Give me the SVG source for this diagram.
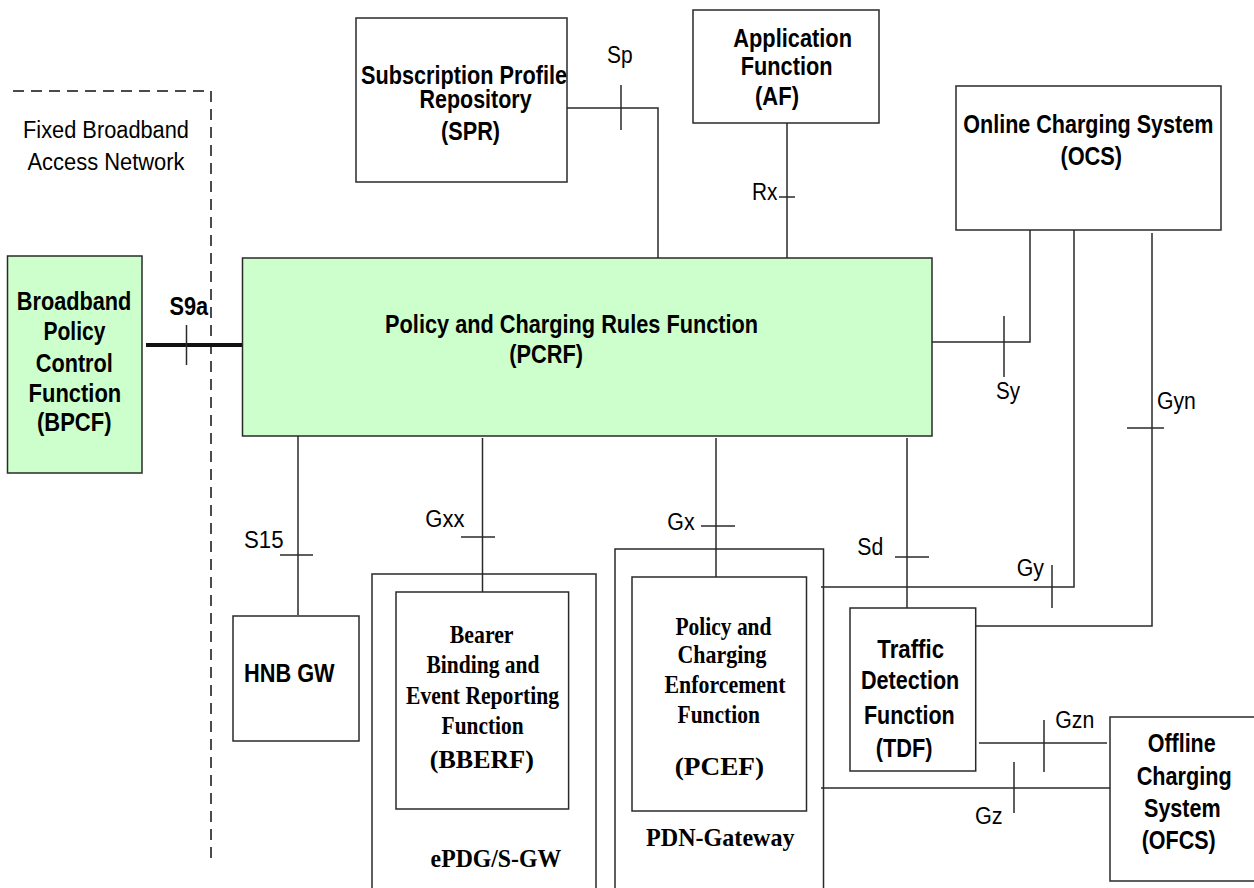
<svg xmlns="http://www.w3.org/2000/svg" width="1254" height="888" viewBox="0 0 1254 888">
<style>
.box{fill:#fff;stroke:#2a2a2a;stroke-width:1.5}
.grn{fill:#ccffcc;stroke:#2a2a2a;stroke-width:1.5}
.ln{fill:none;stroke:#2a2a2a;stroke-width:1.5}
.thick{fill:none;stroke:#111;stroke-width:4}
.dash{fill:none;stroke:#111;stroke-width:1.5;stroke-dasharray:11 7}
.b{font-family:"Liberation Sans",Arial,sans-serif;font-weight:bold;font-size:25px;fill:#000}
.r{font-family:"Liberation Sans",Arial,sans-serif;font-size:23px;fill:#000}
.t{font-family:"Liberation Serif","Times New Roman",serif;font-weight:bold;font-size:25px;fill:#000}
</style>
<rect width="1254" height="888" fill="#fff"/>
<g id="fixed-broadband-access-network">
<path class="dash" d="M13,91 H211 V860"/>
<text class="r" x="23" y="138" textLength="166" lengthAdjust="spacingAndGlyphs">Fixed Broadband</text>
<text class="r" x="27.5" y="170" textLength="157" lengthAdjust="spacingAndGlyphs">Access Network</text>
</g>
<g id="connectors">
<path class="thick" d="M146,345 H243"/>
<path class="ln" d="M186.5,325 V365"/>
<path class="ln" d="M567,108 H658 V258"/>
<path class="ln" d="M621,85 V130"/>
<path class="ln" d="M787,123 V258"/>
<path class="ln" d="M779,197 H795"/>
<path class="ln" d="M932,342 H1030 V230"/>
<path class="ln" d="M1004,316 V377"/>
<path class="ln" d="M821,587 H1074 V230"/>
<path class="ln" d="M1052,565 V608"/>
<path class="ln" d="M974,626 H1152 V233"/>
<path class="ln" d="M1127,428 H1164"/>
<path class="ln" d="M298,434 V615"/>
<path class="ln" d="M280,555 H313"/>
<path class="ln" d="M482.5,438 V592"/>
<path class="ln" d="M461,537 H495"/>
<path class="ln" d="M716,438 V577"/>
<path class="ln" d="M701,526 H735"/>
<path class="ln" d="M907,438 V608"/>
<path class="ln" d="M895,557 H929"/>
<path class="ln" d="M979,743 H1107"/>
<path class="ln" d="M1044,720 V772"/>
<path class="ln" d="M821,788 H1110"/>
<path class="ln" d="M1014,762 V813"/>
<text class="b" x="169.5" y="315" font-size="24" textLength="38.7" lengthAdjust="spacingAndGlyphs">S9a</text>
<text class="r" x="607" y="63" textLength="25.6" lengthAdjust="spacingAndGlyphs">Sp</text>
<text class="r" x="752" y="200" font-size="22" textLength="25.4" lengthAdjust="spacingAndGlyphs">Rx</text>
<text class="r" x="996" y="399" textLength="24" lengthAdjust="spacingAndGlyphs">Sy</text>
<text class="r" x="1157" y="409" textLength="38.8" lengthAdjust="spacingAndGlyphs">Gyn</text>
<text class="r" x="244" y="548" textLength="39.6" lengthAdjust="spacingAndGlyphs">S15</text>
<text class="r" x="425.3" y="527" textLength="39.2" lengthAdjust="spacingAndGlyphs">Gxx</text>
<text class="r" x="667.3" y="529.5" textLength="27.3" lengthAdjust="spacingAndGlyphs">Gx</text>
<text class="r" x="857.3" y="554.5" textLength="26" lengthAdjust="spacingAndGlyphs">Sd</text>
<text class="r" x="1016.7" y="576" textLength="27.3" lengthAdjust="spacingAndGlyphs">Gy</text>
<text class="r" x="1055.3" y="727.5" textLength="39" lengthAdjust="spacingAndGlyphs">Gzn</text>
<text class="r" x="975" y="823.5" textLength="27.7" lengthAdjust="spacingAndGlyphs">Gz</text>
</g>
<g id="bpcf">
<rect class="grn" x="7.5" y="256" width="134.5" height="217"/>
<text class="b" x="16.8" y="310" textLength="114.5" lengthAdjust="spacingAndGlyphs">Broadband</text>
<text class="b" x="43.4" y="340" textLength="62" lengthAdjust="spacingAndGlyphs">Policy</text>
<text class="b" x="35.8" y="371.5" textLength="77" lengthAdjust="spacingAndGlyphs">Control</text>
<text class="b" x="28.6" y="401.5" textLength="92.6" lengthAdjust="spacingAndGlyphs">Function</text>
<text class="b" x="37" y="431" textLength="74.5" lengthAdjust="spacingAndGlyphs">(BPCF)</text>
</g>
<g id="pcrf">
<rect class="grn" x="242.5" y="258" width="689.5" height="178"/>
<text class="b" x="385.1" y="333.3" textLength="373" lengthAdjust="spacingAndGlyphs">Policy and Charging Rules Function</text>
<text class="b" x="509.3" y="363.3" textLength="73.7" lengthAdjust="spacingAndGlyphs">(PCRF)</text>
</g>
<g id="spr">
<rect class="box" x="356" y="18" width="211" height="164"/>
<text class="b" x="361" y="83.5" font-size="24" textLength="206" lengthAdjust="spacingAndGlyphs">Subscription Profile</text>
<text class="b" x="419.6" y="107.5" font-size="24" textLength="112" lengthAdjust="spacingAndGlyphs">Repository</text>
<text class="b" x="441" y="140" textLength="59" lengthAdjust="spacingAndGlyphs">(SPR)</text>
</g>
<g id="af">
<rect class="box" x="693" y="10" width="186" height="113"/>
<text class="b" x="733.3" y="46.7" textLength="118.7" lengthAdjust="spacingAndGlyphs">Application</text>
<text class="b" x="740.8" y="75" textLength="91.7" lengthAdjust="spacingAndGlyphs">Function</text>
<text class="b" x="755" y="105" textLength="44" lengthAdjust="spacingAndGlyphs">(AF)</text>
</g>
<g id="ocs">
<rect class="box" x="956" y="86" width="265" height="144"/>
<text class="b" x="963.3" y="133.3" textLength="250" lengthAdjust="spacingAndGlyphs">Online Charging System</text>
<text class="b" x="1060.4" y="165" textLength="61.7" lengthAdjust="spacingAndGlyphs">(OCS)</text>
</g>
<g id="hnb-gw">
<rect class="box" x="233" y="616" width="126" height="125"/>
<text class="b" x="244" y="681.7" textLength="90.6" lengthAdjust="spacingAndGlyphs">HNB GW</text>
</g>
<g id="epdg-sgw">
<path class="ln" d="M372,892 V574 H596 V892"/>
<text class="t" x="430.6" y="866.7" font-size="26" textLength="130.6" lengthAdjust="spacingAndGlyphs">ePDG/S-GW</text>
</g>
<g id="bberf">
<rect class="box" x="396" y="592" width="172.6" height="217"/>
<text class="t" x="449.8" y="642.7" textLength="63.7" lengthAdjust="spacingAndGlyphs">Bearer</text>
<text class="t" x="426.5" y="672.5" textLength="113" lengthAdjust="spacingAndGlyphs">Binding and</text>
<text class="t" x="406" y="704.3" textLength="153" lengthAdjust="spacingAndGlyphs">Event Reporting</text>
<text class="t" x="441.6" y="734.3" textLength="82" lengthAdjust="spacingAndGlyphs">Function</text>
<text class="t" x="429.8" y="768.3" font-size="28" textLength="104" lengthAdjust="spacingAndGlyphs">(BBERF)</text>
</g>
<g id="pdn-gateway">
<path class="ln" d="M615,892 V549 H823.5 V892"/>
<text class="t" x="646" y="846" font-size="27" textLength="148.6" lengthAdjust="spacingAndGlyphs">PDN-Gateway</text>
</g>
<g id="pcef">
<rect class="box" x="632" y="577" width="174.5" height="234"/>
<text class="t" x="675.5" y="635" textLength="96" lengthAdjust="spacingAndGlyphs">Policy and</text>
<text class="t" x="677.5" y="663" textLength="89" lengthAdjust="spacingAndGlyphs">Charging</text>
<text class="t" x="664.5" y="692.7" textLength="121" lengthAdjust="spacingAndGlyphs">Enforcement</text>
<text class="t" x="677.5" y="722.7" textLength="82.4" lengthAdjust="spacingAndGlyphs">Function</text>
<text class="t" x="674.7" y="775" font-size="32" textLength="89.4" lengthAdjust="spacingAndGlyphs">(PCEF)</text>
</g>
<g id="tdf">
<rect class="box" x="850" y="608" width="125.7" height="163"/>
<text class="b" x="877.3" y="658.3" textLength="66.7" lengthAdjust="spacingAndGlyphs">Traffic</text>
<text class="b" x="861" y="689.3" textLength="98.3" lengthAdjust="spacingAndGlyphs">Detection</text>
<text class="b" x="864" y="724" textLength="90.7" lengthAdjust="spacingAndGlyphs">Function</text>
<text class="b" x="875.7" y="757.3" textLength="56.7" lengthAdjust="spacingAndGlyphs">(TDF)</text>
</g>
<g id="ofcs">
<rect class="box" x="1110" y="717" width="160" height="164"/>
<text class="b" x="1147.7" y="751.7" textLength="68" lengthAdjust="spacingAndGlyphs">Offline</text>
<text class="b" x="1136.7" y="784.5" textLength="95" lengthAdjust="spacingAndGlyphs">Charging</text>
<text class="b" x="1144" y="817.3" textLength="76.7" lengthAdjust="spacingAndGlyphs">System</text>
<text class="b" x="1141.7" y="849.3" textLength="74" lengthAdjust="spacingAndGlyphs">(OFCS)</text>
</g>
</svg>
